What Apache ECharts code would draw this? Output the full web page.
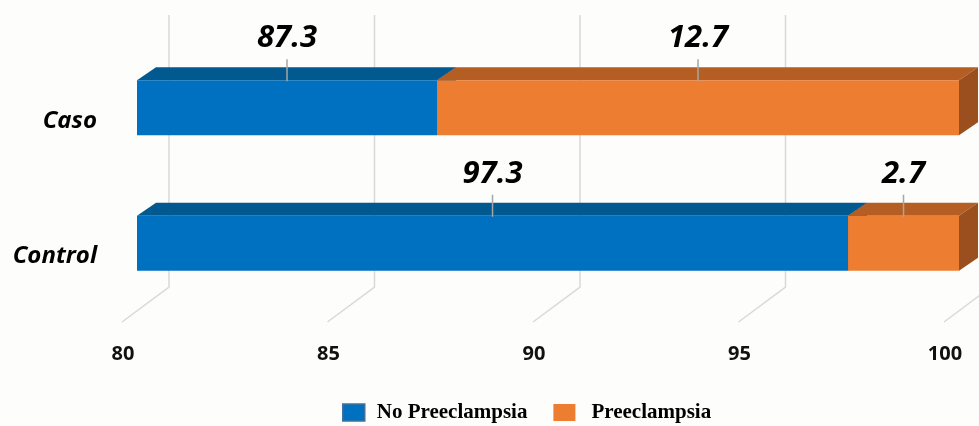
<!DOCTYPE html>
<html>
<head>
<meta charset="utf-8">
<script src="https://cdn.jsdelivr.net/npm/echarts@6/dist/echarts.min.js"></script>
<style>
  html, body { margin: 0; padding: 0; background: #fdfdfb; }
  #chart { width: 979px; height: 426px; }
</style>
</head>
<body>
<div id="chart"></div>
<script>
// Stacked percentages per group
const categories = ['Caso', 'Control'];
const noPreeclampsia = [87.3, 97.3];
const preeclampsia = [12.7, 2.7];
const tickValues = [80, 85, 90, 95, 100];
const seriesNames = ['No Preeclampsia', 'Preeclampsia'];

const AXIS_MIN = 80;
const AXIS_MAX = 100;

// Pseudo-3D geometry (pixels)
const BAR_H = 55;
const DEPTH_DX = 19, DEPTH_DY = 13;       // bar depth
const WALL_DX = 32, WALL_TOP = 25, WALL_BOTTOM = 24; // back wall gridlines
const FLOOR_DX = -15, FLOOR_DY = 11;      // front edge of floor

const palette = {
  blue:   { front: '#0070c0', top: '#02598f', side: '#004f80' },
  orange: { front: '#ed7d31', top: '#b45e23', side: '#9b4f1e' }
};

const labelFont = '"Open Sans", "Noto Sans", sans-serif';
const legendFont = '"Liberation Serif", "Times New Roman", serif';

function segmentData(base, values) {
  return values.map((v, i) => [base ? base[i] : 0, (base ? base[i] : 0) + v, i, v]);
}

function makeBarRenderer(colors) {
  return function (params, api) {
    const start = Math.max(api.value(0), AXIS_MIN);
    const end = Math.min(api.value(1), AXIS_MAX);
    const cat = api.value(2);
    const val = api.value(3);
    const p0 = api.coord([start, cat]);
    const p1 = api.coord([end, cat]);
    const x0 = p0[0], x1 = p1[0];
    const y0 = p0[1] - BAR_H / 2, y1 = y0 + BAR_H;
    const cx = (x0 + x1) / 2;
    return {
      type: 'group',
      children: [
        { type: 'polygon', shape: { points: [[x0, y0], [x1, y0], [x1 + DEPTH_DX, y0 - DEPTH_DY], [x0 + DEPTH_DX, y0 - DEPTH_DY]] },
          style: { fill: colors.top } },
        { type: 'polygon', shape: { points: [[x1, y0], [x1 + DEPTH_DX, y0 - DEPTH_DY], [x1 + DEPTH_DX, y1 - DEPTH_DY], [x1, y1]] },
          style: { fill: colors.side } },
        { type: 'rect', shape: { x: x0, y: y0, width: x1 - x0, height: BAR_H },
          style: { fill: colors.front } },
        { type: 'line', shape: { x1: cx, y1: y0 - 21, x2: cx, y2: y0 + 1 },
          style: { stroke: '#a6a6a6', lineWidth: 1.5 } },
        { type: 'text', x: cx, y: y0 - 42,
          style: { text: val.toFixed(1), fill: '#000', font: 'italic bold 31px ' + labelFont,
                   align: 'center', verticalAlign: 'middle' } }
      ]
    };
  };
}

function renderGridLine(params, api) {
  const x = api.coord([api.value(0), 0])[0];
  const cs = params.coordSys;
  const top = cs.y - WALL_TOP;
  const back = cs.y + cs.height - WALL_BOTTOM;
  const front = cs.y + cs.height + FLOOR_DY;
  return {
    type: 'polyline',
    shape: { points: [[x + WALL_DX, top], [x + WALL_DX, back], [x + FLOOR_DX, front]] },
    style: { stroke: '#d9d9d9', lineWidth: 1.5, fill: null }
  };
}

const chart = echarts.init(document.getElementById('chart'));
chart.setOption({
  backgroundColor: '#fdfdfb',
  animation: false,
  grid: { left: 137, right: 20, top: 40, height: 271 },
  xAxis: {
    type: 'value', min: AXIS_MIN, max: AXIS_MAX, interval: 5,
    axisLine: { show: false }, axisTick: { show: false }, splitLine: { show: false },
    axisLabel: {
      margin: 33, color: '#111', fontSize: 20, fontWeight: 'bold',
      fontFamily: labelFont, padding: [0, 28, 0, 0],
      customValues: tickValues
    }
  },
  yAxis: {
    type: 'category', data: categories, inverse: true,
    axisLine: { show: false }, axisTick: { show: false }, splitLine: { show: false },
    axisLabel: {
      margin: 40, color: '#000', fontSize: 24, fontWeight: 'bold', fontStyle: 'italic',
      fontFamily: labelFont, verticalAlign: 'top', lineHeight: 26
    }
  },
  legend: {
    left: 342, top: 402, padding: 0, itemWidth: 22, itemHeight: 17, itemGap: 26,
    textStyle: { fontFamily: legendFont, fontSize: 21, fontWeight: 'bold', color: '#000',
                 padding: [0, 0, 0, 7] },
    data: [
      { name: seriesNames[0], icon: 'rect',
        itemStyle: { color: palette.blue.front, borderColor: '#41719c', borderWidth: 1.5 } },
      { name: seriesNames[1], icon: 'rect',
        itemStyle: { color: palette.orange.front, borderWidth: 0 },
        textStyle: { fontFamily: legendFont, fontSize: 21, fontWeight: 'bold', color: '#000',
                     padding: [0, 0, 0, 11] } }
    ]
  },
  series: [
    {
      type: 'custom', name: '_grid', silent: true, clip: false, z: 1,
      renderItem: renderGridLine,
      encode: { x: 0, y: 1 },
      data: tickValues.map(v => [v, 0])
    },
    {
      type: 'custom', name: seriesNames[0], clip: false, z: 2,
      itemStyle: { color: palette.blue.front },
      renderItem: makeBarRenderer(palette.blue),
      encode: { x: [0, 1], y: 2 },
      data: segmentData(null, noPreeclampsia)
    },
    {
      type: 'custom', name: seriesNames[1], clip: false, z: 3,
      itemStyle: { color: palette.orange.front },
      renderItem: makeBarRenderer(palette.orange),
      encode: { x: [0, 1], y: 2 },
      data: segmentData(noPreeclampsia, preeclampsia)
    }
  ]
});
</script>
</body>
</html>
